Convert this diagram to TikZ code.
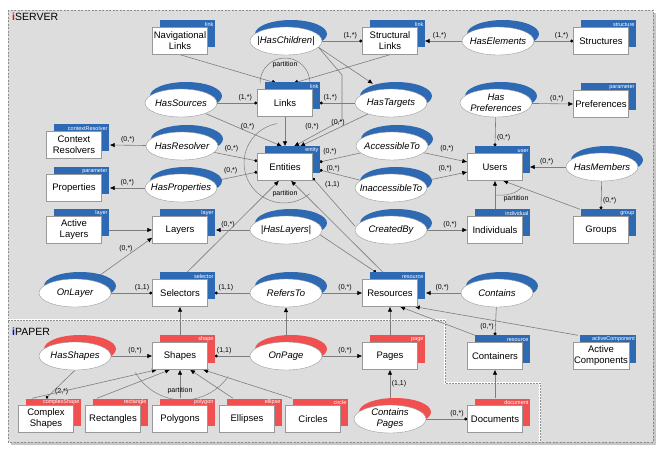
\documentclass[tikz,border=0pt]{standalone}
\usepackage{fontspec}
\setmainfont{Liberation Sans}
\usetikzlibrary{arrows.meta,positioning,shapes.geometric,shadows,calc}

\definecolor{srvblue}{RGB}{46,106,180}
\definecolor{papred}{RGB}{240,80,80}
\definecolor{bggray}{RGB}{221,221,221}
\definecolor{wiregray}{RGB}{125,125,125}

\pgfdeclarelayer{frame}
\pgfdeclarelayer{wires}
\pgfsetlayers{frame,wires,main}

\begin{document}
\begin{tikzpicture}[
  x=1pt, y=-1pt,
  ent/.style={draw=black!40, fill=white, minimum width=55pt, minimum height=27pt, inner sep=1pt, align=center, font=\fontsize{9.5}{11}\selectfont, general shadow={fill=#1, shadow xshift=7pt, shadow yshift=7pt}},
  ent/.default=srvblue,
  rel/.style={ellipse, draw=black!40, fill=white, minimum width=72pt, minimum height=28pt, inner xsep=-8pt, inner ysep=-4pt, align=center, font=\fontsize{9.5}{11}\selectfont\itshape, general shadow={fill=#1, shadow xshift=5pt, shadow yshift=7pt}},
  rel/.default=srvblue,
  tag/.style={label={[anchor=south east, xshift=6.5pt, inner sep=0.6pt, font=\fontsize{5.5}{6}\selectfont, text=white]north east:#1}},
  lbl/.style={font=\fontsize{7}{8}\selectfont, inner sep=1.5pt},
  wire/.style={draw=wiregray, line width=0.6pt},
  arr/.style={wire, -{Latex[length=5pt, width=4.5pt, color=black]}},
  dot/.style={wire, -{Circle[length=3pt, color=black]}},
  part/.style={draw=wiregray, line width=0.5pt},
]
\useasboundingbox (0,0) rectangle (664,454);

% frames
\begin{pgfonlayer}{frame}
  \fill[black!22] (11,13) rectangle (656,445);
  \draw[black!45, fill=bggray, dash pattern=on 2pt off 1.5pt] (8,10) rectangle (653,442);
  \draw[white, line width=2.5pt] (8,320) -- (445,320) -- (445,383) -- (540,383) -- (540,442);
  \draw[black!45, line width=0.4pt, dash pattern=on 1.5pt off 1.5pt] (8,320) -- (445,320) -- (445,383) -- (540,383) -- (540,442);
\end{pgfonlayer}

\node[anchor=base west, inner sep=0, font=\fontsize{10.5}{12}\selectfont] (tserver) at (12,21) {\textcolor{red}{\textbf{i}}SERVER};
\node[anchor=base west, inner sep=0, font=\fontsize{10.5}{12}\selectfont] (tpaper) at (12,335) {\textcolor{blue}{\textbf{i}}PAPER};

% entities
\node[ent, tag=link] (navlinks) at (180,41) {Navigational\\Links};
\node[ent, tag=link] (strlinks) at (390,41) {Structural\\Links};
\node[ent, tag=structure] (structures) at (601,41) {Structures};
\node[ent, tag=link] (links) at (285,103) {Links};
\node[ent, tag=parameter] (prefs) at (601,104) {Preferences};
\node[ent, tag=contextResolver] (ctxres) at (74,145) {Context\\Resolvers};
\node[ent, tag=entity] (entities) at (285,167) {Entities};
\node[ent, tag=user] (users) at (495,167) {Users};
\node[ent, tag=parameter] (props) at (74,188) {Properties};
\node[ent, tag=layer] (actlayers) at (74,230) {Active\\Layers};
\node[ent, tag=layer] (layers) at (180,230) {Layers};
\node[ent, tag=individual] (indiv) at (495,230) {Individuals};
\node[ent, tag=group] (groups) at (601,230) {Groups};
\node[ent, tag=selector] (selectors) at (180,293) {Selectors};
\node[ent, tag=resource] (resources) at (390,293) {Resources};
\node[ent, tag=resource] (containers) at (495,356) {Containers};
\node[ent, tag=activeComponent] (actcomp) at (601,356) {Active\\Components};
\node[ent=papred, tag=shape] (shapes) at (180,356) {Shapes};
\node[ent=papred, tag=page] (pages) at (390,356) {Pages};
\node[ent=papred, tag=complexShape] (complex) at (46,419) {Complex\\Shapes};
\node[ent=papred, tag=rectangle] (rects) at (113,419) {Rectangles};
\node[ent=papred, tag=polygon] (polys) at (180,419) {Polygons};
\node[ent=papred, tag=ellipse] (ellipses) at (247,419) {Ellipses};
\node[ent=papred, tag=circle] (circles) at (313,419) {Circles};
\node[ent=papred, tag=document] (documents) at (495,419) {Documents};

% relationships
\node[rel] (haschildren) at (286,41) {|HasChildren|};
\node[rel] (haselements) at (498,41) {HasElements};
\node[rel] (hassources) at (181,103) {HasSources};
\node[rel] (hastargets) at (391,103) {HasTargets};
\node[rel] (hasprefs) at (496,103) {Has\\Preferences};
\node[rel] (hasresolver) at (182,146) {HasResolver};
\node[rel] (accessible) at (392,146) {AccessibleTo};
\node[rel] (hasprops) at (181,188) {HasProperties};
\node[rel] (inaccessible) at (391,188) {InaccessibleTo};
\node[rel] (hasmembers) at (602,167) {HasMembers};
\node[rel] (haslayers) at (286,230) {|HasLayers|};
\node[rel] (createdby) at (391,230) {CreatedBy};
\node[rel] (onlayer) at (75,293) {OnLayer};
\node[rel] (refersto) at (286,293) {RefersTo};
\node[rel] (contains) at (497,293) {Contains};
\node[rel=papred] (hasshapes) at (75,356) {HasShapes};
\node[rel=papred] (onpage) at (286,356) {OnPage};
\node[rel=papred] (containspages) at (390,419) {Contains\\Pages};

\node[lbl] (plinks) at (285,65) {partition};
\node[lbl] (pentities) at (285,194) {partition};
\node[lbl] (pusers) at (516,199) {partition};
\node[lbl] (pshapes) at (180,391) {partition};

\begin{pgfonlayer}{wires}
% links and its partition
\draw[arr] (navlinks.south) -- ([shift={(-8,-6)}]links.north);
\draw[arr] (strlinks.south) -- ([shift={(8,-6)}]links.north);
\draw[part] (260,83) arc[start angle=180, end angle=360, radius=25];
\draw[dot] (haschildren) -- node[lbl, pos=0.7, above] {(1,*)} (strlinks.west);
\draw[arr] (haselements) -- node[lbl, pos=0.6, above] {(1,*)} ([xshift=7]strlinks.east);
\draw[dot] (haselements) -- node[lbl, pos=0.7, above] {(1,*)} (structures.west);
\draw[dot] (hassources) -- node[lbl, pos=0.7, above] {(1,*)} (links.west);
\draw[dot] (hastargets) -- node[lbl, pos=0.7, above] {(1,*)} ([xshift=7]links.east);
\draw[arr] (hassources) -- node[lbl, pos=0.55, above] {(0,*)} ([shift={(-3,-7)}]entities.north);
\draw[arr] (links) -- ([shift={(0,-7)}]entities.north);
\draw[arr] (haschildren.-11) -- (342,75) -- (342,120) -- node[lbl, pos=0.45, above left] {(0,*)} ([shift={(9,-7)}]entities.north);
\draw[arr] (hastargets) -- node[lbl, pos=0.44, above] {(0,*)} ([shift={(15,-7)}]entities.north);
\draw[arr] (haschildren.-11) -- ([shift={(-18,-5)}]hastargets.north);

% preferences, resolvers, properties
\draw[arr] (hasprefs) -- node[lbl, pos=0.6, above] {(0,*)} (prefs.west);
\draw[dot] (hasprefs) -- node[lbl, pos=0.7, right] {(0,*)} ([shift={(0,-7)}]users.north);
\draw[arr] (hasresolver) -- node[lbl, pos=0.5, above] {(0,*)} ([xshift=8]ctxres.east);
\draw[dot] (hasresolver) -- node[lbl, pos=0.4, above=2pt] {(0,*)} ([shift={(0,-6)}]entities.west);
\draw[arr] (hasprops) -- node[lbl, pos=0.5, above] {(0,*)} ([xshift=8]props.east);
\draw[dot] (hasprops) -- node[lbl, pos=0.4, above=2pt] {(0,*)} ([shift={(0,5)}]entities.west);

% users
\draw[dot] (accessible) -- node[lbl, pos=0.75, above=3pt] {(0,*)} ([shift={(7,-5)}]entities.east);
\draw[dot] (inaccessible) -- node[lbl, pos=0.67, above] {(0,*)} ([shift={(7,3)}]entities.east);
\draw[arr] (accessible) -- node[lbl, pos=0.53, above=4pt] {(0,*)} ([shift={(0,-5)}]users.west);
\draw[arr] (inaccessible) -- node[lbl, pos=0.5, above=3pt] {(0,*)} ([shift={(0,5)}]users.west);
\draw[dot] ([shift={(0,-4)}]createdby.west) -- node[lbl, pos=0.75, above right] {(1,1)} ([shift={(0,11)}]entities.east);
\draw[arr] (createdby) -- node[lbl, pos=0.57, above] {(0,*)} (indiv.west);
\draw[arr] (hasmembers) -- node[lbl, pos=0.53, above] {(0,*)} ([xshift=7]users.east);
\draw[dot] (hasmembers) -- node[lbl, pos=0.7, right] {(0,*)} ([shift={(0,-7)}]groups.north);
\draw[arr] ([shift={(0,-7)}]indiv.north) -- (users.south);
\draw[arr] ([shift={(-21,-7)}]groups.north) -- ([xshift=8]users.south);
\draw[part] (495,195) .. controls (506,196) and (516,194) .. (522,187);

% layers and selectors
\draw[arr] ([xshift=7]actlayers.east) -- (layers.west);
\draw[arr] (onlayer) -- node[lbl, pos=0.56, above=3pt] {(0,*)} ([shift={(0,-6)}]layers.south west);
\draw[arr] (haslayers) -- node[lbl, pos=0.64, above] {(0,*)} ([xshift=8]layers.east);
\draw[dot] (haslayers.-8) -- ([shift={(-14,-7)}]resources.north);
\draw[dot] (onlayer) -- node[lbl, pos=0.75, above] {(1,1)} (selectors.west);
\draw[dot] (refersto) -- node[lbl, pos=0.68, above] {(1,1)} ([xshift=7]selectors.east);
\draw[arr] (refersto) -- node[lbl, pos=0.57, above] {(0,*)} (resources.west);
\draw[arr] ([shift={(7,-7)}]selectors.north) -- ([xshift=-6]entities.south);
\draw[arr] ([shift={(-7,-7)}]resources.north) -- ([xshift=6]entities.south);
\draw[part] (277.1,123.6) arc[start angle=-100, end angle=-310, radius=40];

% resources
\draw[arr] (contains) -- node[lbl, pos=0.53, above] {(0,*)} ([xshift=8]resources.east);
\draw[dot] (contains) -- node[lbl, pos=0.7, left] {(0,*)} ([shift={(0,-7)}]containers.north);
\draw[arr] ([shift={(-20,-7)}]containers.north) -- ([xshift=10]resources.south);
\draw[arr] ([shift={(-23,-7)}]actcomp.north) -- ([xshift=-3]resources.south east);
\draw[arr] ([shift={(0,-7)}]pages.north) -- (resources.south);

% paper
\draw[arr] ([shift={(0,-7)}]shapes.north) -- (selectors.south);
\draw[arr] ([shift={(0,-7)}]onpage.north) -- (refersto.south);
\draw[arr] (hasshapes) -- node[lbl, pos=0.58, above] {(0,*)} (shapes.west);
\draw[dot] (hasshapes.south) -- node[lbl, pos=0.75, right] {(2,*)} ([shift={(0,-7)}]complex.north);
\draw[dot] (onpage) -- node[lbl, pos=0.73, above] {(1,1)} ([xshift=7]shapes.east);
\draw[arr] (onpage) -- node[lbl, pos=0.57, above] {(0,*)} (pages.west);
\draw[arr] ([shift={(-14,-7)}]complex.north) -- ([xshift=-23]shapes.south);
\draw[arr] ([shift={(-16,-7)}]rects.north) -- ([xshift=-10]shapes.south);
\draw[arr] ([shift={(0,-7)}]polys.north) -- (shapes.south);
\draw[arr] ([shift={(-14,-7)}]ellipses.north) -- ([xshift=10]shapes.south);
\draw[arr] ([shift={(-21,-7)}]circles.north) -- ([xshift=23]shapes.south);
\draw[part] (135.4,372.5) arc[start angle=150, end angle=35, radius=55];
\draw[arr] ([shift={(0,-7)}]containspages.north) -- node[lbl, pos=0.5, right] {(1,1)} (pages.south);
\draw[dot] (containspages) -- node[lbl, pos=0.75, above] {(0,*)} (documents.west);
\draw[arr] ([shift={(0,-7)}]documents.north) -- (containers.south);
\end{pgfonlayer}

\end{tikzpicture}
\end{document}
